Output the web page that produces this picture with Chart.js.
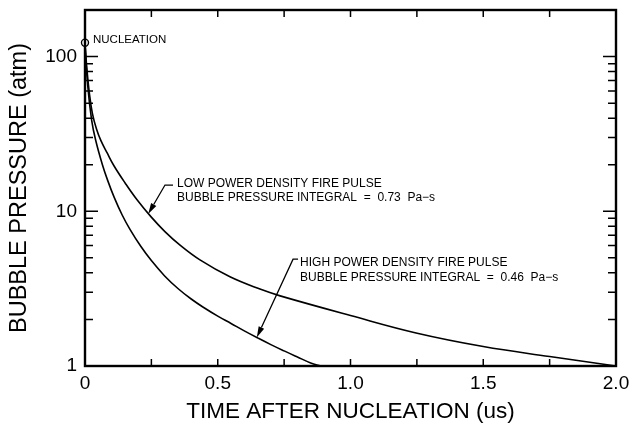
<!DOCTYPE html>
<html>
<head>
<meta charset="utf-8">
<script src="https://cdn.jsdelivr.net/npm/chart.js@4.4.0/dist/chart.umd.min.js"></script>
<style>
  html, body { margin: 0; padding: 0; background: #fff; }
  #chart { display: block; }
</style>
</head>
<body>
<canvas id="chart" width="631" height="430"></canvas>
<script>
// Bubble pressure (atm) vs time after nucleation (us)
const lowPowerTime = [0, 0.0075, 0.017, 0.028, 0.043, 0.06, 0.083, 0.109, 0.151, 0.196, 0.249, 0.301, 0.358, 0.433, 0.546, 0.659, 0.735, 1.0, 1.247, 1.5, 1.75, 2.0];
const lowPowerPressure = [120, 82, 57, 42.8, 34.2, 28.6, 23.9, 19.7, 15.25, 11.87, 9.2, 7.39, 6.04, 4.85, 3.77, 3.14, 2.84, 2.12, 1.636, 1.337, 1.152, 1.0];

const highPowerTime = [0, 0.01, 0.025, 0.04, 0.065, 0.085, 0.11, 0.14, 0.17, 0.21, 0.25, 0.3, 0.35, 0.4, 0.45, 0.5, 0.55, 0.6, 0.65, 0.7, 0.75, 0.8, 0.85, 0.888];
const highPowerPressure = [120, 65.6, 38.9, 28.9, 20.15, 15.9, 12.3, 9.46, 7.61, 5.94, 4.8, 3.82, 3.17, 2.71, 2.37, 2.1, 1.884, 1.687, 1.52, 1.375, 1.252, 1.144, 1.047, 1.0];

const nucleationTime = [0];
const nucleationPressure = [123];

// axis ticks
const xLabelValues = [0, 0.5, 1.0, 1.5, 2.0];
const xTickLabels = ["0", "0.5", "1.0", "1.5", "2.0"];
const xTickMarks = [0.25, 0.5, 0.75, 1.0, 1.25, 1.5, 1.75];
const yLabelValues = [1, 10, 100];
const yTickLabels = ["1", "10", "100"];
const yMajorTicks = [1, 10, 100];
const yMinorTicks = [2, 3, 4, 5, 6, 7, 8, 9, 20, 30, 40, 50, 60, 70, 80, 90];

const FONT = "'Liberation Sans', Arial, sans-serif";

function toPoints(xs, ys) {
  return xs.map((x, i) => ({ x: x, y: ys[i] }));
}

// inward tick marks + frame
const frameAndTicks = {
  id: "frameAndTicks",
  afterDatasetsDraw(chart) {
    const { ctx, chartArea: a, scales } = chart;
    const x = scales.x;
    const y = scales.y;
    ctx.save();
    ctx.strokeStyle = "#000";
    ctx.lineWidth = 1.5;
    ctx.beginPath();
    xTickMarks.forEach((v) => {
      const px = x.getPixelForValue(v);
      ctx.moveTo(px, a.bottom);
      ctx.lineTo(px, a.bottom - 7);
      ctx.moveTo(px, a.top);
      ctx.lineTo(px, a.top + 7);
    });
    yMajorTicks.forEach((v) => {
      const py = y.getPixelForValue(v);
      ctx.moveTo(a.left, py);
      ctx.lineTo(a.left + 13, py);
      ctx.moveTo(a.right, py);
      ctx.lineTo(a.right - 13, py);
    });
    yMinorTicks.forEach((v) => {
      const py = y.getPixelForValue(v);
      ctx.moveTo(a.left, py);
      ctx.lineTo(a.left + 8, py);
      ctx.moveTo(a.right, py);
      ctx.lineTo(a.right - 8, py);
    });
    ctx.stroke();
    ctx.lineWidth = 2.4;
    ctx.strokeRect(a.left, a.top, a.right - a.left, a.bottom - a.top);
    ctx.restore();
  },
};

// text labels with leader arrows
const notes = [
  {
    lines: ["LOW POWER DENSITY FIRE PULSE", "BUBBLE PRESSURE INTEGRAL  =  0.73  Pa\u2212s"],
    at: [0.3465, 15.0],
    lineGap: 13.5,
    dash: [-12, -4, 1],
    tip: [0.238, 9.6],
  },
  {
    lines: ["HIGH POWER DENSITY FIRE PULSE", "BUBBLE PRESSURE INTEGRAL  =  0.46  Pa\u2212s"],
    at: [0.81, 4.62],
    lineGap: 15,
    dash: [-7, -2, -4],
    tip: [0.647, 1.53],
  },
];

const annotations = {
  id: "annotations",
  afterDraw(chart) {
    const { ctx, scales } = chart;
    const x = scales.x;
    const y = scales.y;
    ctx.save();
    ctx.fillStyle = "#000";
    ctx.strokeStyle = "#000";
    ctx.font = "12px " + FONT;
    ctx.textBaseline = "middle";
    ctx.textAlign = "left";

    notes.forEach((n) => {
      const tx = x.getPixelForValue(n.at[0]);
      const ty = y.getPixelForValue(n.at[1]);
      n.lines.forEach((t, i) => ctx.fillText(t, tx, ty + i * n.lineGap));

      const dx0 = tx + n.dash[0];
      const dx1 = tx + n.dash[1];
      const dy = ty + n.dash[2];
      const px = x.getPixelForValue(n.tip[0]);
      const py = y.getPixelForValue(n.tip[1]);
      const ang = Math.atan2(py - dy, px - dx0);
      const len = 11;
      const bx = px - Math.cos(ang) * len;
      const by = py - Math.sin(ang) * len;

      ctx.lineWidth = 1.3;
      ctx.beginPath();
      ctx.moveTo(dx1, dy);
      ctx.lineTo(dx0, dy);
      ctx.lineTo(bx, by);
      ctx.stroke();

      ctx.beginPath();
      ctx.moveTo(px, py);
      ctx.lineTo(bx + Math.sin(ang) * 3, by - Math.cos(ang) * 3);
      ctx.lineTo(bx - Math.sin(ang) * 3, by + Math.cos(ang) * 3);
      ctx.closePath();
      ctx.fill();
    });

    // nucleation label
    const nx = x.getPixelForValue(nucleationTime[0]);
    const ny = y.getPixelForValue(nucleationPressure[0]);
    ctx.font = "11.5px " + FONT;
    ctx.fillText("NUCLEATION", nx + 8, ny - 2.5);
    ctx.restore();
  },
};

const ctx = document.getElementById("chart").getContext("2d");

new Chart(ctx, {
  type: "line",
  data: {
    datasets: [
      {
        label: "Low power density",
        data: toPoints(lowPowerTime, lowPowerPressure),
        borderColor: "#000",
        borderWidth: 1.6,
        pointRadius: 0,
        tension: 0.4,
        fill: false,
      },
      {
        label: "High power density",
        data: toPoints(highPowerTime, highPowerPressure),
        borderColor: "#000",
        borderWidth: 1.6,
        pointRadius: 0,
        tension: 0.4,
        fill: false,
      },
      {
        label: "Nucleation",
        data: toPoints(nucleationTime, nucleationPressure),
        showLine: false,
        pointRadius: 3.5,
        pointStyle: "circle",
        pointBorderColor: "#000",
        pointBorderWidth: 1.4,
        pointBackgroundColor: "rgba(255,255,255,0)",
        clip: false,
      },
    ],
  },
  options: {
    responsive: false,
    animation: false,
    layout: { padding: { top: 10, right: 15, left: 0, bottom: 0 } },
    plugins: {
      legend: { display: false },
      tooltip: { enabled: false },
    },
    scales: {
      x: {
        type: "linear",
        min: 0,
        max: 2,
        afterBuildTicks: (s) => {
          s.ticks = xLabelValues.map((v) => ({ value: v }));
        },
        afterFit: (s) => {
          s.height = 64;
          s.paddingLeft = 0;
          s.paddingRight = 0;
        },
        ticks: {
          autoSkip: false,
          maxRotation: 0,
          padding: 6,
          color: "#000",
          font: { family: FONT, size: 19 },
          callback: (v) => {
            const i = xLabelValues.indexOf(v);
            return i >= 0 ? xTickLabels[i] : "";
          },
        },
        grid: { display: false, drawTicks: false },
        border: { display: false },
        title: {
          display: true,
          text: "TIME AFTER NUCLEATION (us)",
          color: "#000",
          font: { family: FONT, size: 22.5 },
          padding: { top: 0, bottom: 5 },
        },
      },
      y: {
        type: "logarithmic",
        min: 1,
        max: 200,
        afterBuildTicks: (s) => {
          s.ticks = yLabelValues.map((v) => ({ value: v }));
        },
        afterFit: (s) => {
          s.width = 85;
          s.paddingTop = 0;
          s.paddingBottom = 0;
        },
        ticks: {
          autoSkip: false,
          padding: 8,
          color: "#000",
          font: { family: FONT, size: 19 },
          callback: (v) => {
            const i = yLabelValues.indexOf(v);
            return i >= 0 ? yTickLabels[i] : "";
          },
        },
        grid: { display: false, drawTicks: false },
        border: { display: false },
        title: {
          display: true,
          text: "BUBBLE PRESSURE (atm)",
          color: "#000",
          font: { family: FONT, size: 23.5 },
          padding: { top: 5, bottom: 0 },
        },
      },
    },
  },
  plugins: [frameAndTicks, annotations],
});
</script>
</body>
</html>
